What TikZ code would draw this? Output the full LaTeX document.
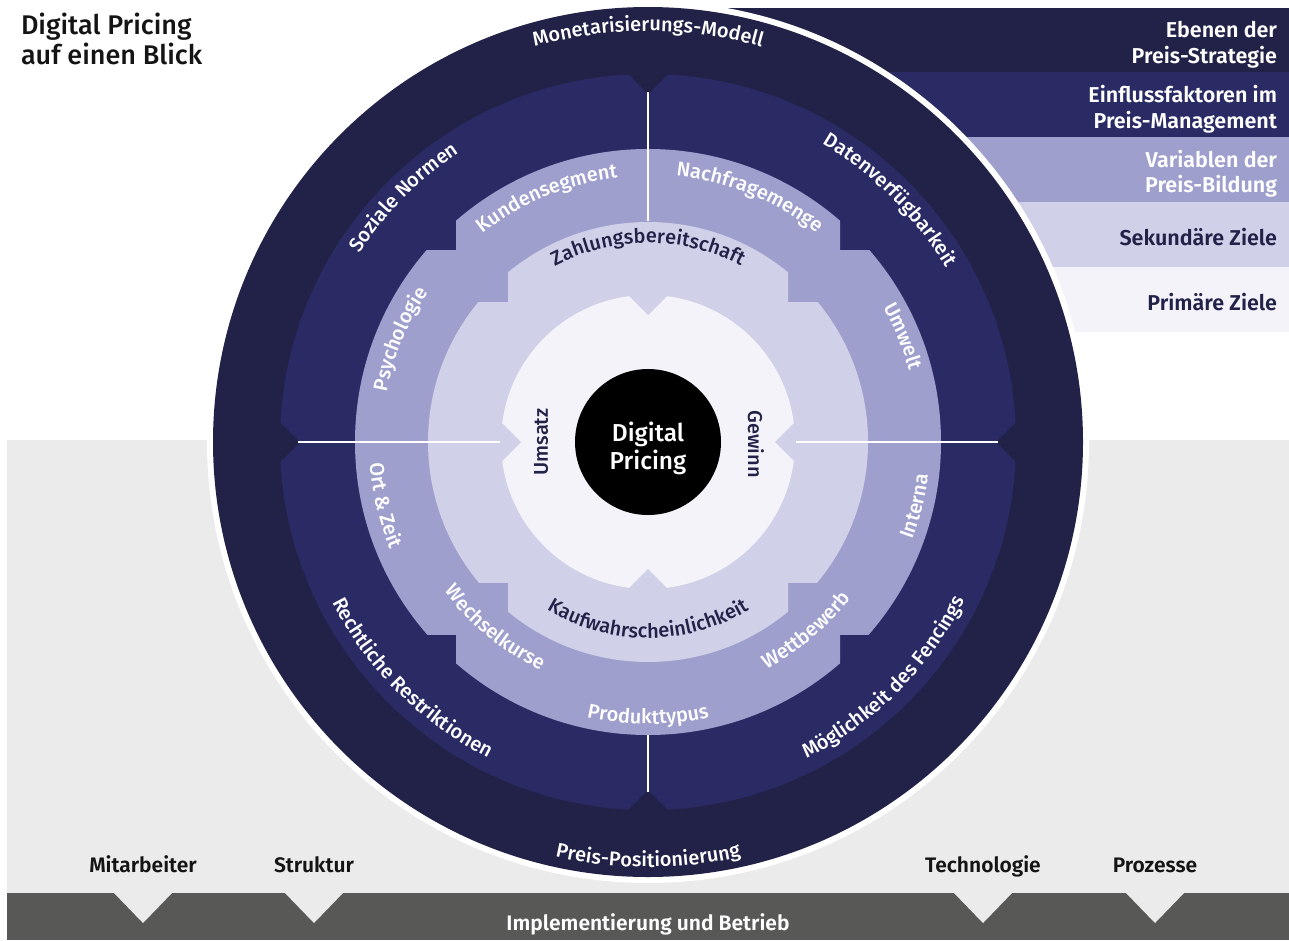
\documentclass[tikz,border=0pt]{standalone}
\usepackage{fontspec}
\setmainfont{Fira Sans}[BoldFont={Fira Sans SemiBold}]
\newfontfamily\firamedium{Fira Sans Medium}
\usetikzlibrary{calc,decorations.text}

\definecolor{navy}{HTML}{222248}
\definecolor{indigo}{HTML}{2A2B65}
\definecolor{lavender}{HTML}{9F9FCE}
\definecolor{mist}{HTML}{D0D0E8}
\definecolor{paper}{HTML}{F4F3F9}
\definecolor{fog}{HTML}{EBEBEB}
\definecolor{slate}{HTML}{585856}
\definecolor{ink}{HTML}{141414}

\newcommand\ringfont{\firamedium\fontsize{20}{24}\selectfont}

% curved ring label, letters pointing outwards (clockwise path)
% #1 centre angle, #2 baseline radius, #3 half span, #4 colour, #5 text
\newcommand\arcout[5]{%
  \path[decorate,decoration={text along path,text align=center,text color=#4,
      text={|\ringfont|#5}}]
    (#1+#3:#2pt) arc[start angle=#1+#3,end angle=#1-#3,radius=#2pt];}
% curved ring label, letters pointing inwards (counter-clockwise path)
\newcommand\arcin[5]{%
  \path[decorate,decoration={text along path,text align=center,text color=#4,
      text={|\ringfont|#5}}]
    (#1-#3:#2pt) arc[start angle=#1-#3,end angle=#1+#3,radius=#2pt];}

\begin{document}
\begin{tikzpicture}[x=1pt,y=1pt,
  lbl/.style={inner sep=0pt,outer sep=0pt},
  legendtxt/.style={lbl,font=\bfseries\fontsize{21.5}{26}\selectfont,anchor=base east},
  bartxt/.style={lbl,font=\bfseries\fontsize{21}{26}\selectfont,anchor=base},
  titletxt/.style={lbl,font=\firamedium\fontsize{27}{32}\selectfont,text=ink,anchor=base west},
  coretxt/.style={lbl,anchor=base,font=\firamedium\fontsize{24.5}{29}\selectfont,text=white},
  divider/.style={white,line width=2pt}]
\useasboundingbox (0,0) rectangle (1289,-940);

% grey base panel and implementation bar with its pointers
\fill[fog] (7,-440) rectangle (1289,-893);
\fill[slate] (7,-893) rectangle (1289,-940);
\foreach \x in {143,314,983,1155}
  \fill[fog] (\x-30,-892) -- (\x,-923) -- (\x+30,-892) -- cycle;

\node[bartxt,text=ink] (mitarbeiter) at (143,-872) {Mitarbeiter};
\node[bartxt,text=ink] (struktur) at (314,-872) {Struktur};
\node[bartxt,text=ink] (technologie) at (983,-872) {Technologie};
\node[bartxt,text=ink] (prozesse) at (1155,-872) {Prozesse};
\node[bartxt,text=white] (betrieb) at (648,-930) {Implementierung und Betrieb};

% legend bands
\fill[navy] (700,-8) rectangle (1289,-72);
\fill[indigo] (700,-72) rectangle (1289,-137);
\fill[lavender] (700,-137) rectangle (1289,-202);
\fill[mist] (700,-202) rectangle (1289,-267);
\fill[paper] (700,-267) rectangle (1289,-332);

\node[legendtxt,text=white] (leg1a) at (1277,-37) {Ebenen der};
\node[legendtxt,text=white] (leg1b) at (1277,-63) {Preis-Strategie};
\node[legendtxt,text=white] (leg2a) at (1277,-102) {Einflussfaktoren im};
\node[legendtxt,text=white] (leg2b) at (1277,-128) {Preis-Management};
\node[legendtxt,text=white] (leg3a) at (1277,-167) {Variablen der};
\node[legendtxt,text=white] (leg3b) at (1277,-192) {Preis-Bildung};
\node[legendtxt,text=navy] (leg4) at (1277,-245) {Sekundäre Ziele};
\node[legendtxt,text=navy] (leg5) at (1277,-310) {Primäre Ziele};

% title
\node[titletxt] (title1) at (21,-34) {Digital Pricing};
\node[titletxt] (title2) at (21,-64) {auf einen Blick};

% the wheel
\begin{scope}[shift={(648,-442)}]
  \coordinate (C) at (0,0);
  \fill[white] (C) circle[radius=441pt];
  \fill[navy] (C) circle[radius=435pt];
  % ring of influence factors with notches on the axes
  \fill[indigo] (C) circle[radius=368pt];
  \foreach \a in {0,90,180,270}
    \fill[navy,rotate=\a] (348pt,0) -- (377pt,29pt) -- (377pt,-29pt) -- cycle;
  % variables ring: circle cut to a cross
  \begin{scope}
    \clip (-192pt,-300pt) rectangle (192pt,300pt);
    \fill[lavender] (C) circle[radius=293pt];
  \end{scope}
  \begin{scope}
    \clip (-300pt,-192pt) rectangle (300pt,192pt);
    \fill[lavender] (C) circle[radius=293pt];
  \end{scope}
  % secondary goals ring
  \begin{scope}
    \clip (-140pt,-230pt) rectangle (140pt,230pt);
    \fill[mist] (C) circle[radius=220pt];
  \end{scope}
  \begin{scope}
    \clip (-230pt,-140pt) rectangle (230pt,140pt);
    \fill[mist] (C) circle[radius=220pt];
  \end{scope}
  % primary goals disc
  \fill[paper] (C) circle[radius=147pt];
  \foreach \a in {0,90,180,270}
    \fill[mist,rotate=\a] (127pt,0) -- (156pt,29pt) -- (156pt,-29pt) -- cycle;
  % core
  \fill[black] (C) circle[radius=73pt];

  % dividers
  \draw[divider] (90:350pt) -- (90:221pt);
  \draw[divider] (270:350pt) -- (270:293pt);
  \draw[divider] (180:350pt) -- (180:148pt);
  \draw[divider] (0:350pt) -- (0:148pt);

  % strategy levels
  \arcout{90}{411}{45}{white}{Monetarisierungs-Modell}
  \arcin{270}{425}{45}{white}{Preis-Positionierung}
  % influence factors
  \arcout{135}{345}{40}{white}{Soziale Normen}
  \arcout{45}{345}{40}{white}{Datenverfügbarkeit}
  \arcin{225}{354}{40}{white}{Rechtliche Restriktionen}
  \arcin{315}{354}{40}{white}{Möglichkeit des Fencings}
  % price variables
  \arcout{112.5}{266}{30}{white}{Kundensegment}
  \arcout{67.5}{268}{30}{white}{Nachfragemenge}
  \arcout{157.5}{266}{30}{white}{Psychologie}
  \arcout{22.5}{271}{30}{white}{Umwelt}
  \arcin{193.5}{279}{30}{white}{Ort {\&} Zeit}
  \arcin{346.5}{282}{30}{white}{Interna}
  \arcin{270}{282}{30}{white}{Produkttypus}
  \arcin{230.5}{252}{30}{white}{Wechselkurse}
  \arcin{310}{256}{30}{white}{Wettbewerb}
  % secondary goals
  \arcout{90}{199}{50}{navy}{Zahlungsbereitschaft}
  \arcin{270}{196}{55}{navy}{Kaufwahrscheinlichkeit}
  % primary goals
  \node[lbl,rotate=90,font=\ringfont,text=navy] (umsatz) at (-107pt,0) {Umsatz};
  \node[lbl,rotate=-90,font=\ringfont,text=navy] (gewinn) at (108pt,-2pt) {Gewinn};
  % core label
  \node[coretxt] (core1) at (0,1pt) {Digital};
  \node[coretxt] (core2) at (0,-27pt) {Pricing};
\end{scope}
\end{tikzpicture}
\end{document}
